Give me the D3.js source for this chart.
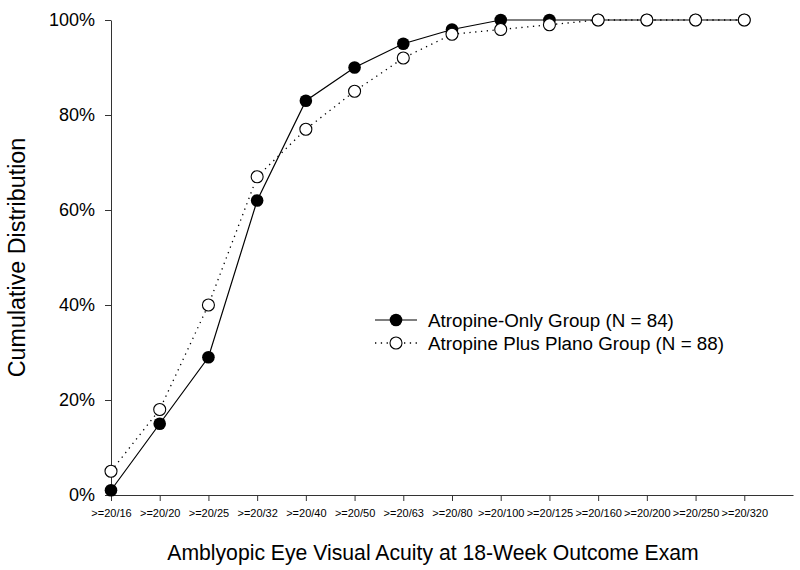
<!DOCTYPE html>
<html>
<head>
<meta charset="utf-8">
<script src="https://cdn.jsdelivr.net/npm/d3@7"></script>
<style>
  body { margin: 0; background: #fff; }
  svg { display: block; font-family: Arial, "Liberation Sans", sans-serif; }
</style>
</head>
<body>
<div id="chart"></div>
<script>
const categories = [">=20/16", ">=20/20", ">=20/25", ">=20/32", ">=20/40", ">=20/50", ">=20/63",
                    ">=20/80", ">=20/100", ">=20/125", ">=20/160", ">=20/200", ">=20/250", ">=20/320"]
const atropineOnly = [1, 15, 29, 62, 83, 90, 95, 98, 100, 100, 100, 100, 100, 100]
const atropinePlano = [5, 18, 40, 67, 77, 85, 92, 97, 98, 99, 100, 100, 100, 100]
const yTicks = [0, 20, 40, 60, 80, 100]
const seriesNames = ["Atropine-Only Group (N = 84)", "Atropine Plus Plano Group (N = 88)"]

const svgWidth = 800
const svgHeight = 570

const xScale = d3.scaleLinear()
                 .domain([0, 14])
                 .range([111, 793])
const yScale = d3.scaleLinear()
                 .domain([0, 100])
                 .range([495, 20])

const svg = d3.select("#chart")
              .append("svg")
              .attr("width", svgWidth)
              .attr("height", svgHeight)

const xAxis = d3.axisBottom(xScale)
                .tickValues(d3.range(categories.length))
                .tickFormat(i => categories[i])
                .tickSize(6)
                .tickSizeOuter(0)
                .tickPadding(8)
const yAxis = d3.axisLeft(yScale)
                .tickValues(yTicks)
                .tickFormat(d => `${d}%`)
                .tickSize(6)
                .tickSizeOuter(0)
                .tickPadding(10)

const gx = svg.append("g")
   .attr("transform", `translate(0, ${yScale(0)})`)
   .call(xAxis)
gx.selectAll("text").style("font-size", "11px").attr("fill", "#000")

const gy = svg.append("g")
   .attr("transform", `translate(${xScale(0)}, 0)`)
   .call(yAxis)
gy.selectAll("text").style("font-size", "18px").attr("fill", "#000")

svg.selectAll(".domain, .tick line").attr("stroke", "#333")

// axis titles
svg.append("text")
   .attr("x", 433)
   .attr("y", 560)
   .attr("text-anchor", "middle")
   .style("font-size", "21.2px")
   .text("Amblyopic Eye Visual Acuity at 18-Week Outcome Exam")

svg.append("text")
   .attr("transform", `translate(25, ${(yScale(0) + yScale(100)) / 2}) rotate(-90)`)
   .attr("text-anchor", "middle")
   .style("font-size", "23.3px")
   .text("Cumulative Distribution")

const line = d3.line()
               .x((d, i) => xScale(i))
               .y(d => yScale(d))

// solid series
svg.append("path")
   .datum(atropineOnly)
   .attr("d", line)
   .attr("fill", "none")
   .attr("stroke", "#000")
   .attr("stroke-width", 1.2)

svg.append("path")
   .datum(atropinePlano)
   .attr("d", line)
   .attr("fill", "none")
   .attr("stroke", "#000")
   .attr("stroke-width", 1.3)
   .attr("stroke-dasharray", "1.3,4.5")

svg.append("g")
   .selectAll("circle")
   .data(atropineOnly)
   .enter()
   .append("circle")
   .attr("cx", (d, i) => xScale(i))
   .attr("cy", d => yScale(d))
   .attr("r", 6.3)
   .attr("fill", "#000")

svg.append("g")
   .selectAll("circle")
   .data(atropinePlano)
   .enter()
   .append("circle")
   .attr("cx", (d, i) => xScale(i))
   .attr("cy", d => yScale(d))
   .attr("r", 6)
   .attr("fill", "#fff")
   .attr("stroke", "#000")
   .attr("stroke-width", 1.1)

// legend
const legend = svg.append("g").attr("transform", "translate(375, 320)")
const rows = legend.selectAll("g")
   .data(seriesNames)
   .enter()
   .append("g")
   .attr("transform", (d, i) => `translate(0, ${i * 23})`)

rows.append("line")
    .attr("x1", 0).attr("x2", 42)
    .attr("stroke", "#000")
    .attr("stroke-width", (d, i) => i ? 1.3 : 1.2)
    .attr("stroke-dasharray", (d, i) => i ? "1.3,4.5" : null)

rows.append("circle")
    .attr("cx", 21)
    .attr("r", (d, i) => i ? 6 : 6.3)
    .attr("fill", (d, i) => i ? "#fff" : "#000")
    .attr("stroke", "#000")
    .attr("stroke-width", (d, i) => i ? 1.1 : 0)

rows.append("text")
    .attr("x", 53)
    .attr("dy", "0.35em")
    .style("font-size", "18.8px")
    .text(d => d)
</script>
</body>
</html>
